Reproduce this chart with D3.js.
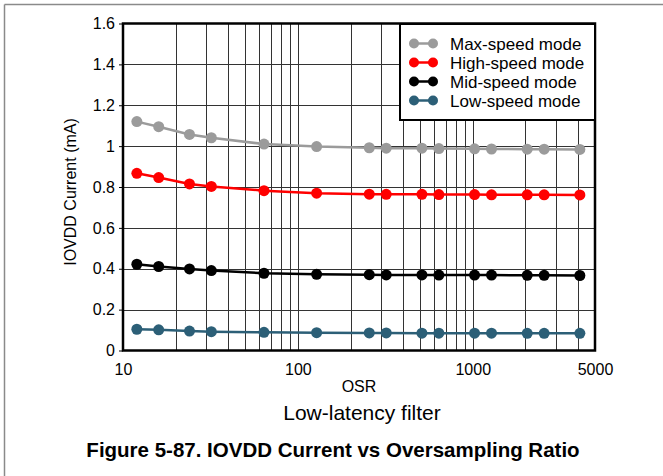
<!DOCTYPE html>
<html>
<head>
<meta charset="utf-8">
<script src="https://cdn.jsdelivr.net/npm/d3@7"></script>
<style>
  body { margin: 0; background: #fff; }
  svg { display: block; font-family: "Liberation Sans", Arial, sans-serif; }
</style>
</head>
<body>
<svg id="chart" width="663" height="476"></svg>
<script>
const osr = [12, 16, 24, 32, 64, 128, 256, 320, 512, 640, 1024, 1280, 2048, 2560, 4096];
const maxSpeed  = [1.120, 1.095, 1.057, 1.041, 1.010, 0.998, 0.992, 0.990, 0.990, 0.988, 0.987, 0.986, 0.985, 0.985, 0.984];
const highSpeed = [0.867, 0.846, 0.815, 0.803, 0.782, 0.770, 0.765, 0.764, 0.764, 0.763, 0.763, 0.762, 0.762, 0.762, 0.761];
const midSpeed  = [0.422, 0.411, 0.399, 0.391, 0.378, 0.373, 0.371, 0.370, 0.370, 0.369, 0.369, 0.369, 0.368, 0.368, 0.367];
const lowSpeed  = [0.104, 0.101, 0.095, 0.092, 0.089, 0.087, 0.086, 0.086, 0.085, 0.085, 0.085, 0.085, 0.084, 0.084, 0.084];
const seriesNames = ["Max-speed mode", "High-speed mode", "Mid-speed mode", "Low-speed mode"];
const seriesColors = ["#9b9b9b", "#ff0000", "#000000", "#2c5f77"];
const xTickValues = [10, 100, 1000, 5000];
const yTickValues = [0, 0.2, 0.4, 0.6, 0.8, 1, 1.2, 1.4, 1.6];
const xGridValues = [20,30,40,50,60,70,80,90,100,200,300,400,500,600,700,800,900,1000,2000,3000,4000];

const series = [maxSpeed, highSpeed, midSpeed, lowSpeed];

const svg = d3.select("#chart");
const m = { left: 123, right: 595, top: 23.5, bottom: 350.5 };

// frame
svg.append("line").attr("x1", 4.5).attr("x2", 663).attr("y1", 4.5).attr("y2", 4.5)
  .attr("stroke", "#8a8a8a").attr("stroke-width", 1.5);
svg.append("line").attr("x1", 4.5).attr("x2", 4.5).attr("y1", 4.5).attr("y2", 476)
  .attr("stroke", "#8a8a8a").attr("stroke-width", 1.5);

const x = d3.scaleLog().domain([10, 5000]).range([m.left, m.right]);
const y = d3.scaleLinear().domain([0, 1.6]).range([m.bottom, m.top]);

// grid
const g = svg.append("g");
g.selectAll(".vg").data(xGridValues).join("line")
  .attr("x1", d => Math.round(x(d)) + 0.5).attr("x2", d => Math.round(x(d)) + 0.5)
  .attr("y1", m.top).attr("y2", m.bottom)
  .attr("stroke", "#333").attr("stroke-width", 1);
g.selectAll(".hg").data(yTickValues.slice(1, -1)).join("line")
  .attr("x1", m.left).attr("x2", m.right)
  .attr("y1", d => Math.round(y(d)) + 0.5).attr("y2", d => Math.round(y(d)) + 0.5)
  .attr("stroke", "#333").attr("stroke-width", 1);

// axes
const yAxis = d3.axisLeft(y).tickValues(yTickValues).tickSize(4).tickPadding(4)
  .tickFormat(d => d3.format("~g")(d));
const ya = svg.append("g").attr("transform", `translate(${m.left},0)`).call(yAxis);
ya.select(".domain").remove();
ya.selectAll("text").attr("font-size", 16).attr("fill", "#000")
  .attr("font-family", "'Liberation Sans', Arial, sans-serif");
ya.selectAll("line").attr("stroke", "#000");

const xAxis = d3.axisBottom(x).tickValues(xTickValues).tickSize(0).tickPadding(13)
  .tickFormat(d3.format("d"));
const xa = svg.append("g").attr("transform", `translate(0,${m.bottom})`).call(xAxis);
xa.select(".domain").remove();
xa.selectAll("text").attr("font-size", 16).attr("fill", "#000")
  .attr("font-family", "'Liberation Sans', Arial, sans-serif");

// plot border
svg.append("rect").attr("x", m.left).attr("y", m.top)
  .attr("width", m.right - m.left).attr("height", m.bottom - m.top)
  .attr("fill", "none").attr("stroke", "#000").attr("stroke-width", 2.5);

// series
const line = d3.line().x((d, i) => x(osr[i])).y(d => y(d));
series.forEach((s, k) => {
  svg.append("path").datum(s).attr("d", line)
    .attr("fill", "none").attr("stroke", seriesColors[k]).attr("stroke-width", 2.5);
  svg.append("g").selectAll("circle").data(s).join("circle")
    .attr("cx", (d, i) => x(osr[i])).attr("cy", d => y(d)).attr("r", 5.5)
    .attr("fill", seriesColors[k]);
});

// legend
const lg = svg.append("g");
lg.append("rect").attr("x", 400).attr("y", 24).attr("width", m.right - 400).attr("height", 96)
  .attr("fill", "#fff").attr("stroke", "#000").attr("stroke-width", 2);
seriesNames.forEach((n, k) => {
  const yy = 43.5 + k * 19;
  lg.append("line").attr("x1", 414).attr("x2", 433).attr("y1", yy).attr("y2", yy)
    .attr("stroke", seriesColors[k]).attr("stroke-width", 2.5);
  lg.append("circle").attr("cx", 414).attr("cy", yy).attr("r", 5).attr("fill", seriesColors[k]);
  lg.append("circle").attr("cx", 433).attr("cy", yy).attr("r", 5).attr("fill", seriesColors[k]);
  lg.append("text").attr("x", 450).attr("y", yy).attr("dy", "0.36em")
    .attr("font-size", 17).attr("fill", "#000").text(n);
});

// labels
svg.append("text").attr("transform", "translate(76,192) rotate(-90)")
  .attr("text-anchor", "middle").attr("font-size", 16).text("IOVDD Current (mA)");
svg.append("text").attr("x", 359).attr("y", 392).attr("text-anchor", "middle")
  .attr("font-size", 16).text("OSR");
svg.append("text").attr("x", 362).attr("y", 420).attr("text-anchor", "middle")
  .attr("font-size", 21).text("Low-latency filter");
svg.append("text").attr("x", 333).attr("y", 457).attr("text-anchor", "middle")
  .attr("font-size", 20.5).attr("font-weight", "bold")
  .text("Figure 5-87. IOVDD Current vs Oversampling Ratio");
</script>
</body>
</html>
